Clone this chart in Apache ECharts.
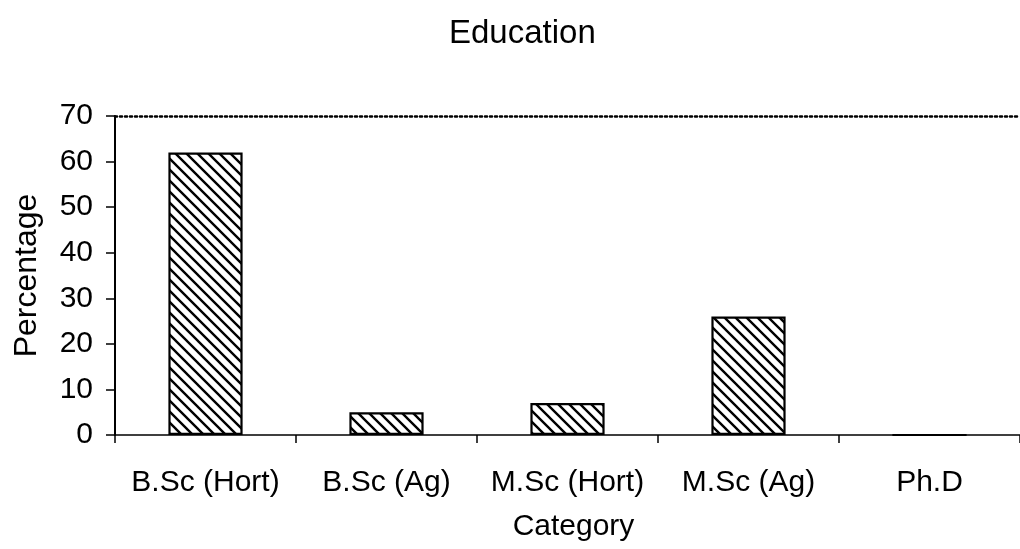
<!DOCTYPE html>
<html>
<head>
<meta charset="utf-8">
<script src="https://cdn.jsdelivr.net/npm/echarts@6/dist/echarts.min.js"></script>
<style>html,body{margin:0;padding:0;background:#fff;}#c{width:1020px;height:549px;}</style>
</head>
<body>
<div id="c"></div>
<script>
var categories = ['B.Sc (Hort)', 'B.Sc (Ag)', 'M.Sc (Hort)', 'M.Sc (Ag)', 'Ph.D'];
var percentages = [62, 5, 7, 26, 0];
var yTicks = [0, 10, 20, 30, 40, 50, 60, 70];

function hatch() {
  var s = 11;
  var c = document.createElement('canvas');
  c.width = s; c.height = s;
  var g = c.getContext('2d');
  g.fillStyle = '#fff';
  g.fillRect(0, 0, s, s);
  g.strokeStyle = '#000';
  g.lineWidth = 2.4;
  g.beginPath();
  g.moveTo(-2, -2); g.lineTo(s + 2, s + 2);
  g.moveTo(-2 - s, -2); g.lineTo(2, s + 2);
  g.moveTo(s - 2, -2); g.lineTo(2 * s + 2, s + 2);
  g.stroke();
  return c;
}

var font = 'Liberation Sans, Arial, sans-serif';
var chart = echarts.init(document.getElementById('c'), null, {renderer: 'canvas'});
chart.setOption({
  animation: false,
  backgroundColor: '#fff',
  title: {
    text: 'Education', left: 444, top: 12,
    textStyle: {fontFamily: font, fontSize: 33, fontWeight: 'normal', color: '#000'}
  },
  grid: {left: 115, top: 116, width: 913, height: 319},
  xAxis: [{
    type: 'category', data: categories, position: 'bottom',
    name: 'Category', nameLocation: 'middle', nameGap: 77,
    nameTextStyle: {fontFamily: font, fontSize: 30, color: '#000', padding: [0, 0, 0, 12]},
    axisLine: {lineStyle: {color: '#000', width: 1.5}},
    axisTick: {show: true, alignWithLabel: false, length: 8, lineStyle: {color: '#000', width: 1.5}},
    axisLabel: {fontFamily: font, fontSize: 30, color: '#000', margin: 33, interval: 0}
  }, {
    type: 'category', data: categories, position: 'top',
    axisLine: {show: true, lineStyle: {color: '#000', width: 2.5, type: [2, 3]}},
    axisTick: {show: false}, axisLabel: {show: false}
  }],
  yAxis: {
    type: 'value', min: 0, max: 70, interval: 10,
    name: 'Percentage', nameLocation: 'middle', nameGap: 72, nameRotate: 90,
    nameTextStyle: {fontFamily: font, fontSize: 32, color: '#000'},
    axisLine: {show: true, lineStyle: {color: '#000', width: 2}},
    axisTick: {show: true, length: 9, lineStyle: {color: '#000', width: 1.5}},
    axisLabel: {fontFamily: font, fontSize: 30, color: '#000', margin: 22,
      formatter: function (v) { return yTicks.indexOf(v) >= 0 ? String(v) : ''; }},
    splitLine: {show: false}
  },
  series: [{
    type: 'bar', data: percentages, barWidth: '41%',
    itemStyle: {color: {image: hatch(), repeat: 'repeat'}, borderColor: '#000', borderWidth: 2.2}
  }]
});
</script>
</body>
</html>
